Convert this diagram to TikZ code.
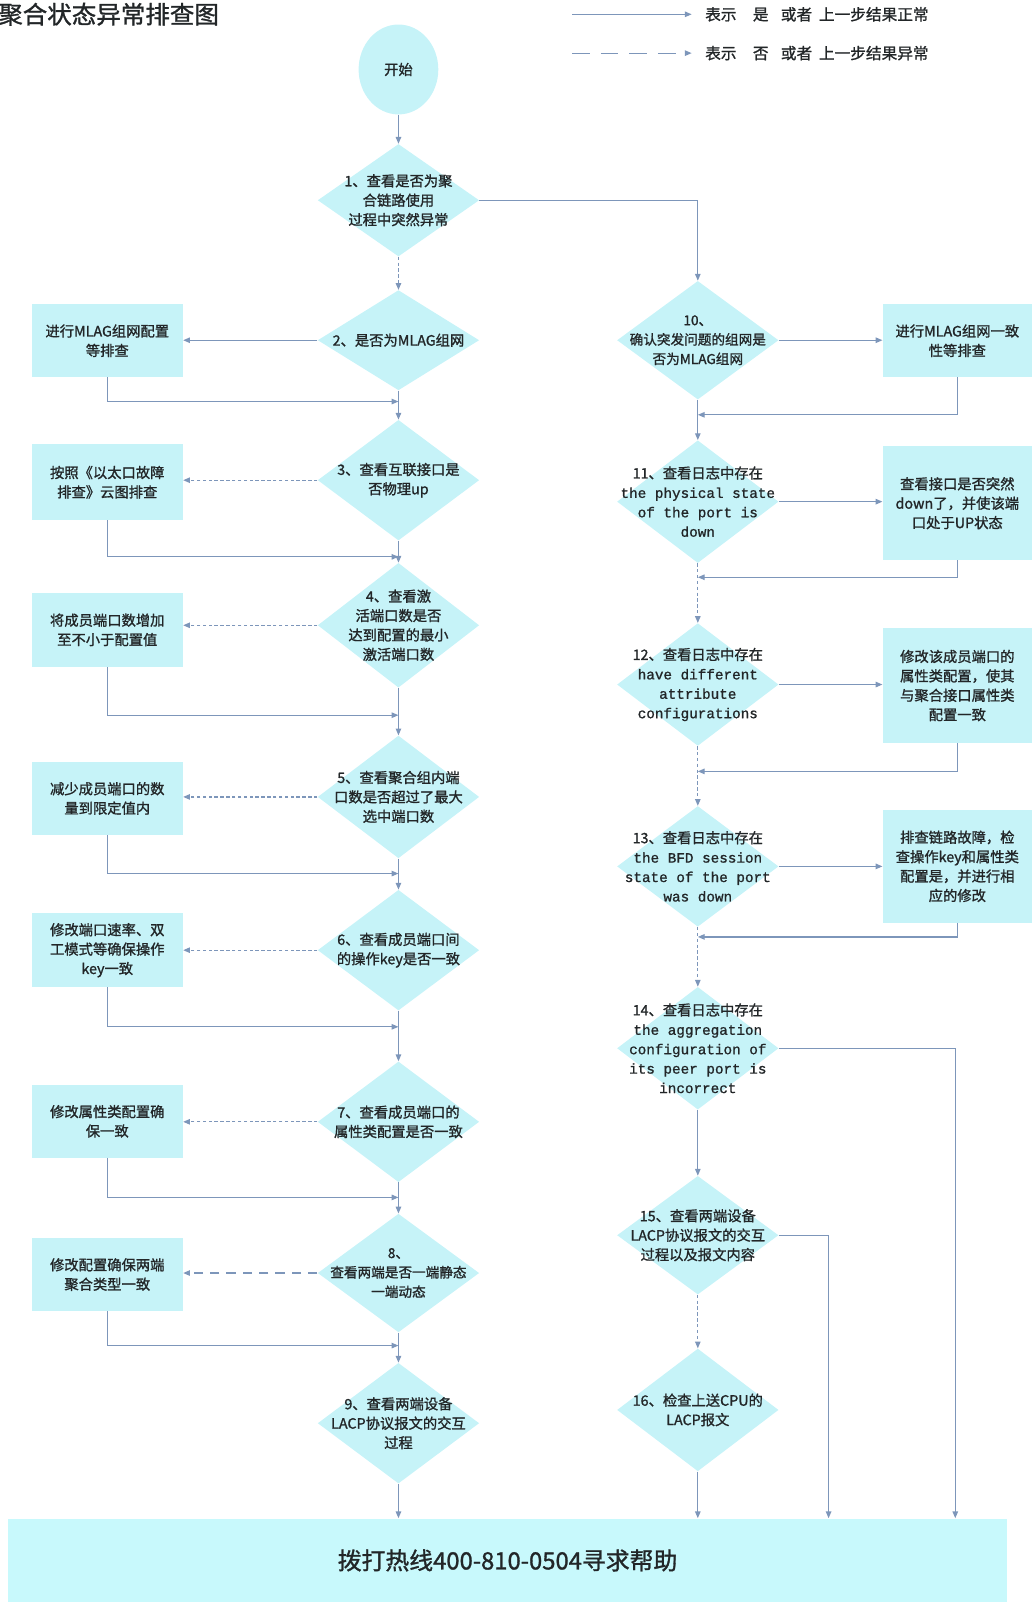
\documentclass[tikz,border=0pt]{standalone}
\usepackage{fontspec}
\setmainfont{Noto Sans CJK SC}[FakeBold=1.2]
\newfontfamily\monofont{Liberation Mono}[FakeBold=1]
\usetikzlibrary{shapes.geometric,arrows.meta}
\definecolor{fillc}{RGB}{198,243,248}
\definecolor{botc}{RGB}{200,249,252}
\definecolor{linec}{RGB}{125,150,186}
\definecolor{txtc}{RGB}{34,38,40}
\tikzset{
  dia/.style={shape=diamond, fill=fillc, draw=none, inner sep=0pt, minimum width=118.5pt},
  lbox/.style={shape=rectangle, fill=fillc, draw=none, inner sep=0pt, minimum width=111pt},
  rbox/.style={shape=rectangle, fill=fillc, draw=none, inner sep=0pt, minimum width=109.5pt},
  txt/.style={align=center, text=txtc, inner sep=0pt, font=\fontsize{10.5}{14.25}\selectfont},
  stxt/.style={txt, font=\fontsize{10}{14.25}\selectfont},
  sol/.style={draw=linec, line width=0.9pt, -{Triangle[length=5pt,width=4pt]}},
  dsh/.style={sol, dash pattern=on 2.5pt off 1.8pt},
  ldsh/.style={sol, dash pattern=on 7pt off 5pt},
  lgdsh/.style={sol, dash pattern=on 13pt off 8pt},
}
\begin{document}
\begin{tikzpicture}[x=0.75pt, y=-0.75pt]
\useasboundingbox (0,0) rectangle (1011,1568);

% title and legend
\node[anchor=west, text=txtc, inner sep=0pt, font=\fontsize{18}{20}\selectfont] (title) at (-2,14) {聚合状态异常排查图};
\coordinate (lga) at (560,14);
\coordinate (lgb) at (677,14);
\coordinate (lgc) at (560,52);
\coordinate (lgd) at (677,52);
\draw[sol] (lga) -- (lgb);
\draw[lgdsh] (lgc) -- (lgd);
\node[anchor=west, text=txtc, inner sep=0pt, font=\fontsize{11.5}{13}\selectfont] (lg1) at (690,14) {表示\hspace{12pt}是\hspace{9pt}或者\hspace{5pt}上一步结果正常};
\node[anchor=west, text=txtc, inner sep=0pt, font=\fontsize{11.5}{13}\selectfont] (lg2) at (690,52) {表示\hspace{12pt}否\hspace{9pt}或者\hspace{5pt}上一步结果异常};

% start
\node[ellipse, fill=fillc, minimum width=58.5pt, minimum height=66pt, inner sep=0pt, txt] (start) at (390,68) {开始};

% left column diamonds
\node[dia, minimum height=82.5pt] (d1) at (390,196) {};
\node[txt] (d1t) at (d1) {1、查看是否为聚\\合链路使用\\过程中突然异常};
\node[dia, minimum height=73.5pt] (d2) at (390,333) {};
\node[txt] (d2t) at (d2) {2、是否为MLAG组网};
\node[dia, minimum height=88.5pt] (d3) at (390,470) {};
\node[txt] (d3t) at (d3) {3、查看互联接口是\\否物理up};
\node[dia, minimum height=91.5pt] (d4) at (390,612) {};
\node[txt] (d4t) at (d4) {4、查看激\\活端口数是否\\达到配置的最小\\激活端口数};
\node[dia, minimum height=90pt] (d5) at (390,780) {};
\node[txt] (d5t) at (d5) {5、查看聚合组内端\\口数是否超过了最大\\选中端口数};
\node[dia, minimum height=88.5pt] (d6) at (390,930) {};
\node[txt] (d6t) at (d6) {6、查看成员端口间\\的操作key是否一致};
\node[dia, minimum height=88.5pt] (d7) at (390,1098) {};
\node[txt] (d7t) at (d7) {7、查看成员端口的\\属性类配置是否一致};
\node[dia, minimum height=87pt] (d8) at (390,1246) {};
\node[stxt] (d8t) at (d8) {8、\\查看两端是否一端静态\\一端动态};
\node[dia, minimum height=88.5pt] (d9) at (390,1393) {};
\node[txt] (d9t) at (d9) {9、查看两端设备\\LACP协议报文的交互\\过程};

% left boxes
\node[lbox, minimum height=53.25pt] (b2) at (105,333.5) {};
\node[txt] (b2t) at (b2) {进行MLAG组网配置\\等排查};
\node[lbox, minimum height=55.5pt] (b3) at (105,472) {};
\node[txt] (b3t) at (b3) {按照《以太口故障\\排查》云图排查};
\node[lbox, minimum height=54.75pt] (b4) at (105,616.5) {};
\node[txt] (b4t) at (b4) {将成员端口数增加\\至不小于配置值};
\node[lbox, minimum height=53.25pt] (b5) at (105,781.5) {};
\node[txt] (b5t) at (b5) {减少成员端口的数\\量到限定值内};
\node[lbox, minimum height=54pt] (b6) at (105,930) {};
\node[txt] (b6t) at (b6) {修改端口速率、双\\工模式等确保操作\\key一致};
\node[lbox, minimum height=53.25pt] (b7) at (105,1097.5) {};
\node[txt] (b7t) at (b7) {修改属性类配置确\\保一致};
\node[lbox, minimum height=53.25pt] (b8) at (105,1247.5) {};
\node[txt] (b8t) at (b8) {修改配置确保两端\\聚合类型一致};

% right column diamonds
\node[dia, minimum height=87pt] (d10) at (683,333) {};
\node[stxt] (d10t) at (d10) {10、\\确认突发问题的组网是\\否为MLAG组网};
\node[dia, minimum height=90pt] (d11) at (683,491) {};
\node[txt] (d11t) at (d11) {11、查看日志中存在\\{\monofont the physical state}\\{\monofont of the port is}\\{\monofont down}};
\node[dia, minimum height=90pt] (d12) at (683,670) {};
\node[txt] (d12t) at (d12) {12、查看日志中存在\\{\monofont have different}\\{\monofont attribute}\\{\monofont configurations}};
\node[dia, minimum height=88.5pt] (d13) at (683,848) {};
\node[txt] (d13t) at (d13) {13、查看日志中存在\\{\monofont the BFD session}\\{\monofont state of the port}\\{\monofont was down}};
\node[dia, minimum height=90pt] (d14) at (683,1026) {};
\node[txt] (d14t) at (d14) {14、查看日志中存在\\{\monofont the aggregation}\\{\monofont configuration of}\\{\monofont its peer port is}\\{\monofont incorrect}};
\node[dia, minimum height=87pt] (d15) at (683,1209) {};
\node[txt] (d15t) at (d15) {15、查看两端设备\\LACP协议报文的交互\\过程以及报文内容};
\node[dia, minimum height=90pt] (d16) at (683,1380) {};
\node[txt] (d16t) at (d16) {16、检查上送CPU的\\LACP报文};

% right boxes
\node[rbox, minimum height=53.25pt] (b10) at (937,333.5) {};
\node[txt] (b10t) at (b10) {进行MLAG组网一致\\性等排查};
\node[rbox, minimum height=83.25pt] (b11) at (937,492.5) {};
\node[txt] (b11t) at (b11) {查看接口是否突然\\down了，并使该端\\口处于UP状态};
\node[rbox, minimum height=84pt] (b12) at (937,671) {};
\node[txt] (b12t) at (b12) {修改该成员端口的\\属性类配置，使其\\与聚合接口属性类\\配置一致};
\node[rbox, minimum height=82.5pt] (b13) at (937,848) {};
\node[txt] (b13t) at (b13) {排查链路故障，检\\查操作key和属性类\\配置是，并进行相\\应的修改};

% bottom box
\node[anchor=north west, fill=botc, minimum width=732.75pt, minimum height=61.5pt, inner sep=0pt, text=txtc, font=\fontsize{17.5}{20}\selectfont] (bot) at (8,1486) {拨打热线400-810-0504寻求帮助};

% join coordinates
\coordinate (j2) at (390,393);
\coordinate (j3) at (390,545);
\coordinate (j4) at (390,700);
\coordinate (j5) at (390,855);
\coordinate (j6) at (390,1005);
\coordinate (j7) at (390,1172);
\coordinate (j8) at (390,1317);
\coordinate (k10) at (683,406);
\coordinate (k11) at (683,565);
\coordinate (k12) at (683,755);
\coordinate (k13) at (683,917);
\coordinate (e14) at (935,1486);
\coordinate (e15) at (811,1486);

% main left flow
\draw[sol] (start.south) -- (d1.north);
\draw[dsh] (d1.south) -- (d2.north);
\draw[sol] (d2.south) -- (d3.north);
\draw[sol] (d3.south) -- (d4.north);
\draw[sol] (d4.south) -- (d5.north);
\draw[sol] (d5.south) -- (d6.north);
\draw[sol] (d6.south) -- (d7.north);
\draw[sol] (d7.south) -- (d8.north);
\draw[sol] (d8.south) -- (d9.north);
\draw[sol] (d9.south) -- (d9.south |- bot.north);

% left branches
\draw[sol] (d2.west) -- (d2.west -| b2.east);
\draw[dsh] (d3.west) -- (d3.west -| b3.east);
\draw[dsh] (d4.west) -- (d4.west -| b4.east);
\draw[dsh] (d5.west) -- (d5.west -| b5.east);
\draw[dsh] (d6.west) -- (d6.west -| b6.east);
\draw[dsh] (d7.west) -- (d7.west -| b7.east);
\draw[ldsh] (d8.west) -- (d8.west -| b8.east);
\draw[sol] (b2.south) |- (j2);
\draw[sol] (b3.south) |- (j3);
\draw[sol] (b4.south) |- (j4);
\draw[sol] (b5.south) |- (j5);
\draw[sol] (b6.south) |- (j6);
\draw[sol] (b7.south) |- (j7);
\draw[sol] (b8.south) |- (j8);

% right flow
\draw[sol] (d1.east) -| (d10.north);
\draw[sol] (d10.south) -- (d11.north);
\draw[dsh] (d11.south) -- (d12.north);
\draw[dsh] (d12.south) -- (d13.north);
\draw[dsh] (d13.south) -- (d14.north);
\draw[sol] (d14.south) -- (d15.north);
\draw[dsh] (d15.south) -- (d16.north);
\draw[sol] (d16.south) -- (d16.south |- bot.north);
\draw[sol] (d14.east) -| (e14);
\draw[sol] (d15.east) -| (e15);

% right branches
\draw[sol] (d10.east) -- (d10.east -| b10.west);
\draw[sol] (d11.east) -- (d11.east -| b11.west);
\draw[sol] (d12.east) -- (d12.east -| b12.west);
\draw[sol] (d13.east) -- (d13.east -| b13.west);
\draw[sol] (b10.south) |- (k10);
\draw[sol] (b11.south) |- (k11);
\draw[sol] (b12.south) |- (k12);
\draw[sol] (b13.south) |- (k13);
\end{tikzpicture}
\end{document}
